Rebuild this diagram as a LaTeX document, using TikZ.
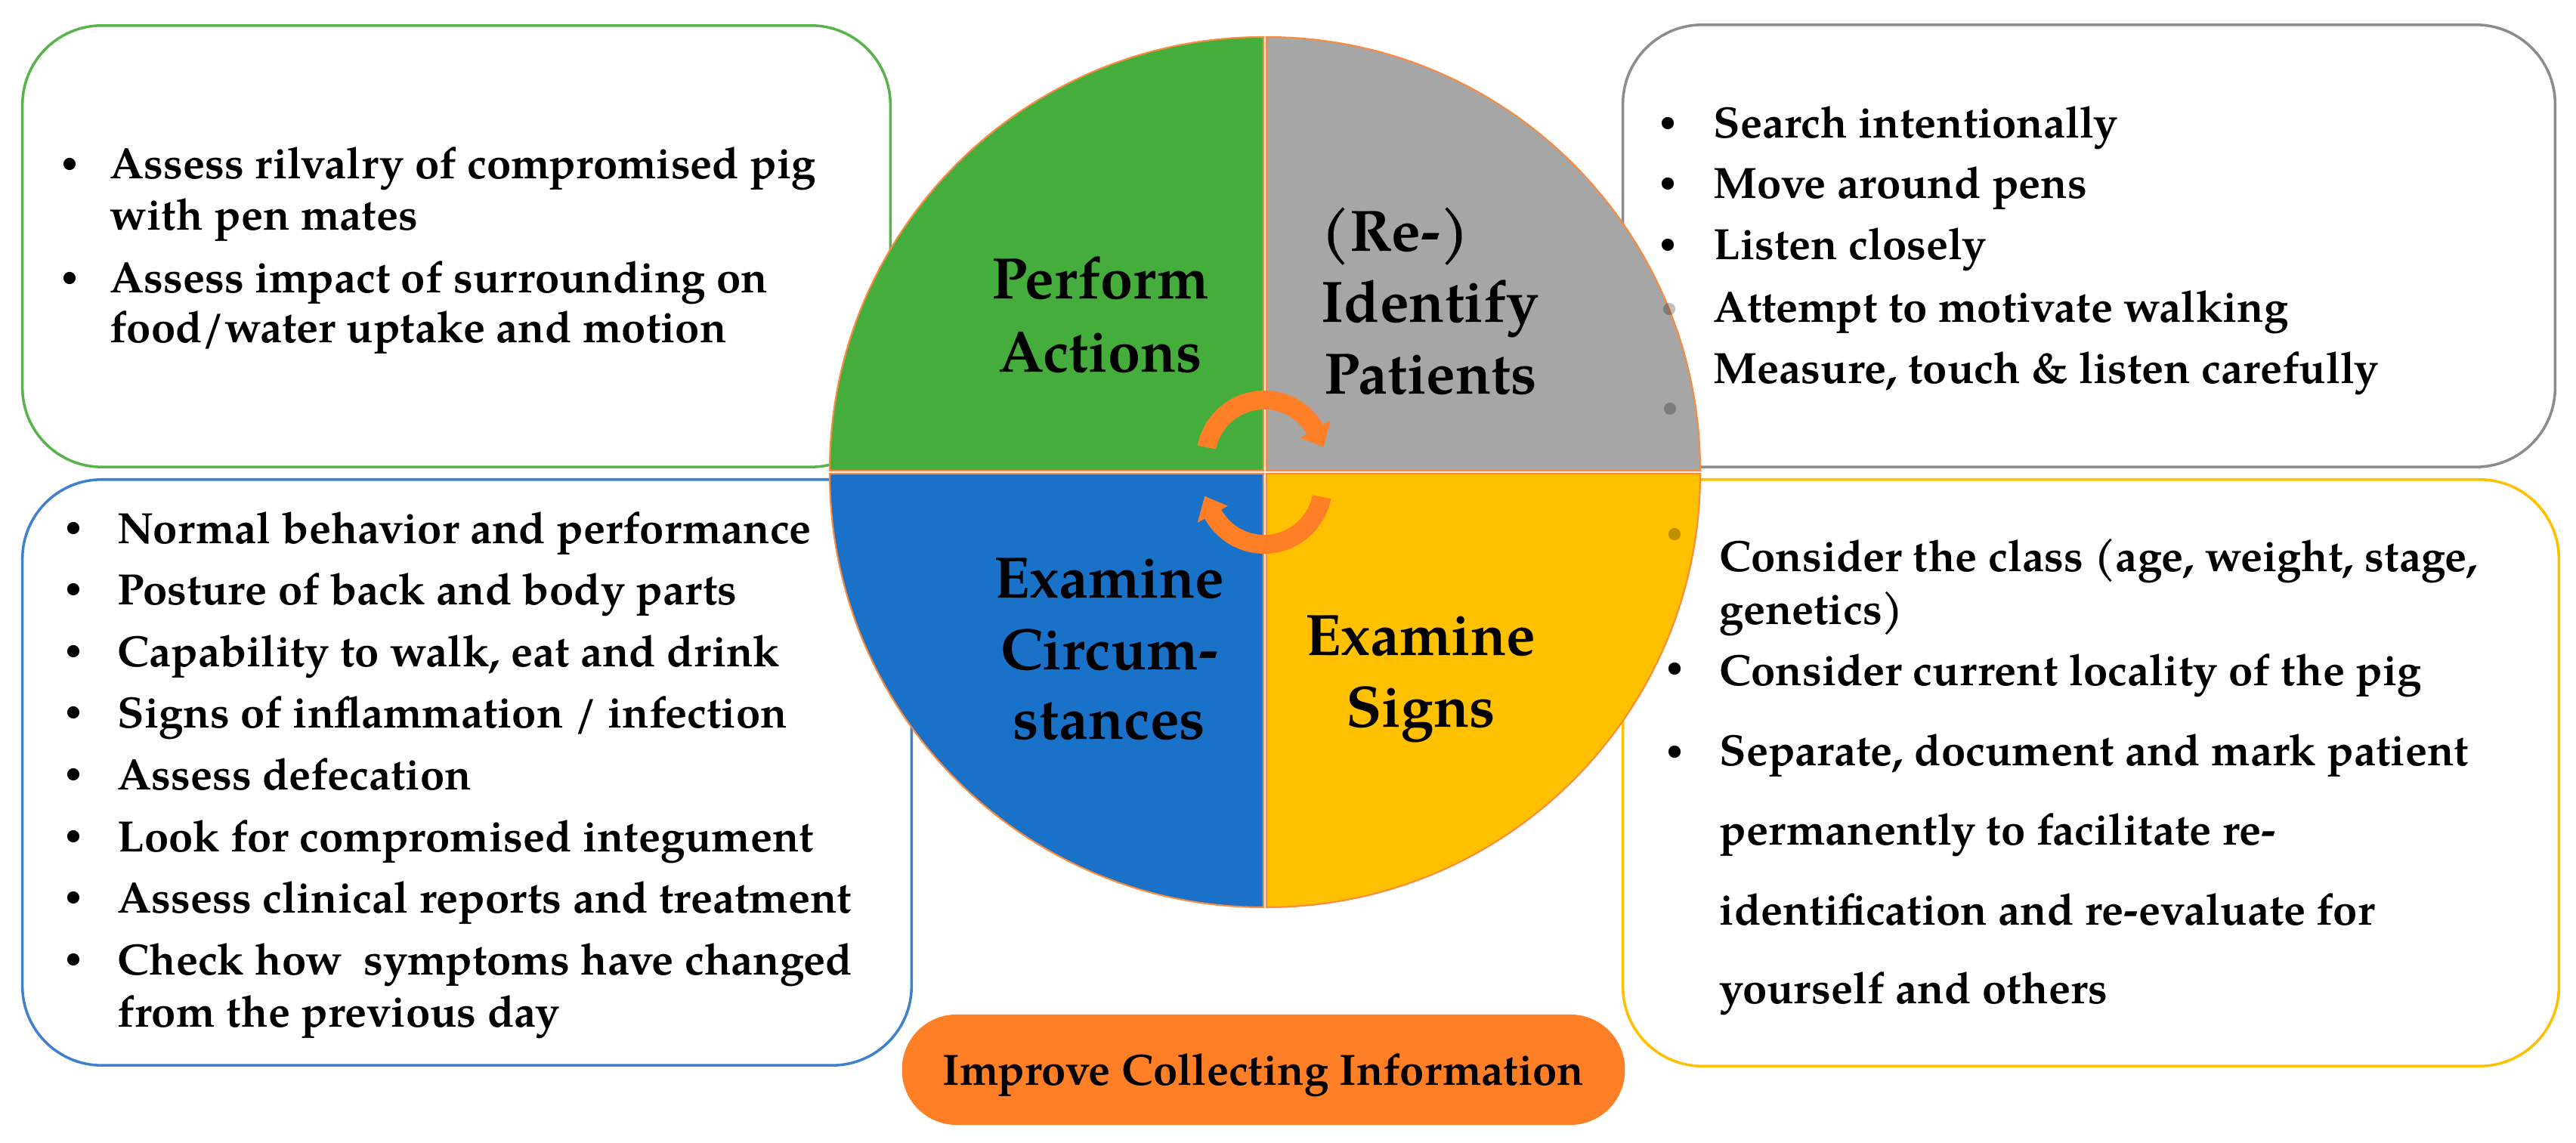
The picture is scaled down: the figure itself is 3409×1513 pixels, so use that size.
\documentclass[tikz,border=0pt]{standalone}
\usepackage{fontspec}
\setmainfont{texgyrepagella}[Extension=.otf, UprightFont=*-regular, BoldFont=*-bold, ItalicFont=*-italic, BoldItalicFont=*-bolditalic]
\definecolor{cgreen}{HTML}{44AD3B}
\definecolor{cgrey}{HTML}{A6A6A6}
\definecolor{cblue}{HTML}{1A71C8}
\definecolor{cyellow}{HTML}{FFC000}
\definecolor{corange}{HTML}{FF7F27}
\definecolor{cqline}{HTML}{F98A3E}
\definecolor{lgreen}{HTML}{58B44A}
\definecolor{lgrey}{HTML}{8C8C8C}
\definecolor{lblue}{HTML}{3F80D0}
\definecolor{lyellow}{HTML}{FFC000}
\begin{document}
\begin{tikzpicture}[x=0.01cm, y=0.01cm,
  box/.style={draw=#1, line width=1pt, rounded corners=1.05cm, inner sep=0pt},
  quad/.style={draw=cqline, line width=0.6pt},
  txt/.style={anchor=base west, inner sep=0pt, font=\fontsize{16.5}{20}\selectfont\bfseries},
  lab/.style={anchor=base, inner sep=0pt, font=\fontsize{22}{26}\selectfont\bfseries},
  bul/.style={circle, fill=black, inner sep=0pt, minimum size=4.6pt},
  ghost/.style={circle, fill=black, fill opacity=0.25, inner sep=0pt, minimum size=4.6pt},
  pill/.style={fill=corange, rounded corners=0.72cm, minimum width=9.56cm, minimum height=1.46cm, inner sep=0pt}
]
\useasboundingbox (0,0) rectangle (3409,1513);

% text boxes
\node[box=lgreen, minimum width=11.48cm, minimum height=5.84cm] (gbox) at (604,1187) {};
\node[box=lgrey, minimum width=12.33cm, minimum height=5.85cm] (rbox) at (2764.5,1187.5) {};
\node[box=lblue, minimum width=11.76cm, minimum height=7.75cm] (bbox) at (618,490.5) {};
\node[box=lyellow, minimum width=12.38cm, minimum height=7.76cm] (ybox) at (2767,490) {};

% circle quadrants
\path[quad, fill=cgreen] (1672,890) -- ++(-574,0) arc[start angle=180, end angle=90, radius=574] -- cycle;
\path[quad, fill=cgrey] (1676,890) -- ++(0,574) arc[start angle=90, end angle=0, radius=574] -- cycle;
\path[quad, fill=cblue] (1672,886) -- ++(0,-574) arc[start angle=270, end angle=180, radius=574] -- cycle;
\path[quad, fill=cyellow] (1676,886) -- ++(574,0) arc[start angle=0, end angle=-90, radius=574] -- cycle;

% cycle arrows
\coordinate (cc1) at (1673,906);
\coordinate (cc2) at (1673,870);
\fill[corange] ([shift={(169:90)}]cc1) arc[start angle=169, end angle=30, radius=90]
  -- ([shift={(30:101)}]cc1) -- ([shift={(11:80)}]cc1) -- ([shift={(30:55)}]cc1)
  -- ([shift={(30:65)}]cc1) arc[start angle=30, end angle=169, radius=65] -- cycle;
\fill[corange] ([shift={(-11:90)}]cc2) arc[start angle=-11, end angle=-151, radius=90]
  -- ([shift={(-151:101)}]cc2) -- ([shift={(-170:80)}]cc2) -- ([shift={(-151:55)}]cc2)
  -- ([shift={(-151:65)}]cc2) arc[start angle=-151, end angle=-11, radius=65] -- cycle;

% circle labels
\node[lab] (pa1) at (1456,1117) {Perform};
\node[lab] (pa2) at (1456,1020) {Actions};
\node[lab, anchor=base west] (ip1) at (1748,1180) {(Re-)};
\node[lab, anchor=base west] (ip2) at (1748,1086) {Identify};
\node[lab, anchor=base west] (ip3) at (1752,991) {Patients};
\node[lab] (ec1) at (1468,721) {Examine};
\node[lab] (ec2) at (1468,626) {Circum-};
\node[lab] (ec3) at (1468,534) {stances};
\node[lab] (es1) at (1880,645) {Examine};
\node[lab] (es2) at (1880,550) {Signs};

% green box text
\node[bul] (g1b) at (92,1296) {};
\node[txt] (g1) at (145,1276) {Assess rilvalry of compromised pig};
\node[txt] (g1c) at (145,1208) {with pen mates};
\node[bul] (g2b) at (92,1145) {};
\node[txt] (g2) at (145,1125) {Assess impact of surrounding on};
\node[txt] (g2c) at (145,1059) {food/water uptake and motion};

% grey box text
\node[bul] (r1b) at (2207,1350) {};
\node[txt] (r1) at (2267,1330) {Search intentionally};
\node[bul] (r2b) at (2207,1270) {};
\node[txt] (r2) at (2267,1250) {Move around pens};
\node[bul] (r3b) at (2207,1189) {};
\node[txt] (r3) at (2267,1169) {Listen closely};
\node[ghost] (r4b) at (2209,1104) {};
\node[txt] (r4) at (2267,1086) {Attempt to motivate walking};
\node[txt] (r5) at (2267,1005) {Measure, touch \& listen carefully};
\node[ghost] (r6b) at (2210,972) {};

% blue box text
\node[bul] (b1b) at (97,814) {};
\node[txt] (b1) at (155,793) {Normal behavior and performance};
\node[bul] (b2b) at (97,733) {};
\node[txt] (b2) at (155,712) {Posture of back and body parts};
\node[bul] (b3b) at (97,651) {};
\node[txt] (b3) at (155,630) {Capability to walk, eat and drink};
\node[bul] (b4b) at (97,570) {};
\node[txt] (b4) at (155,549) {Signs of inflammation / infection};
\node[bul] (b5b) at (97,488) {};
\node[txt] (b5) at (155,467) {Assess defecation};
\node[bul] (b6b) at (97,406) {};
\node[txt] (b6) at (155,385) {Look for compromised integument};
\node[bul] (b7b) at (97,325) {};
\node[txt] (b7) at (155,304) {Assess clinical reports and treatment};
\node[bul] (b8b) at (97,243) {};
\node[txt] (b8) at (155,222) {Check how\ \ symptoms have changed};
\node[txt] (b8c) at (155,153) {from the previous day};

% yellow box text
\node[ghost] (y1b) at (2216,806) {};
\node[txt] (y1) at (2275,756) {Consider the class (age, weight, stage,};
\node[txt] (y1c) at (2275,686) {genetics)};
\node[bul] (y2b) at (2216,628) {};
\node[txt] (y2) at (2275,605) {Consider current locality of the pig};
\node[bul] (y3b) at (2216,518) {};
\node[txt] (y3) at (2275,499) {Separate, document and mark patient};
\node[txt] (y3c) at (2275,394) {permanently to facilitate re-};
\node[txt] (y3d) at (2275,288) {identification and re-evaluate for};
\node[txt] (y3e) at (2275,184) {yourself and others};

% bottom pill
\node[pill] (pill) at (1672,97) {};
\node[txt, anchor=base] (pillt) at (1672,76) {Improve Collecting Information};
\end{tikzpicture}
\end{document}
